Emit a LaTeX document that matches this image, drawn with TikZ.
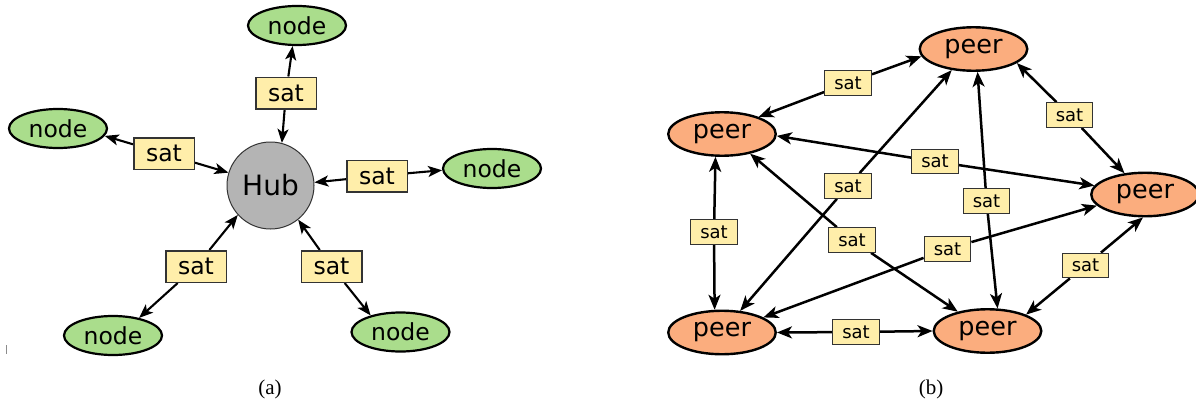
\documentclass[tikz,border=0pt]{standalone}
\usepackage{fontspec}
\setsansfont{DejaVu Sans}
\setmainfont{Liberation Serif}
\usetikzlibrary{arrows.meta,shapes.geometric,backgrounds}
\definecolor{nodegreen}{RGB}{170,221,140}
\definecolor{peerorange}{RGB}{251,173,126}
\definecolor{satyellow}{RGB}{255,238,170}
\definecolor{hubgray}{RGB}{180,180,180}
\begin{document}
\begin{tikzpicture}[x=1pt,y=-1pt,
  leaf/.style={ellipse, draw=black, line width=2.2pt, fill=nodegreen, minimum width=98pt, minimum height=39pt, inner sep=0pt, font=\sffamily\fontsize{23.5}{23.5}\selectfont},
  peer/.style={ellipse, draw=black, line width=2.4pt, fill=peerorange, minimum width=107.5pt, minimum height=43.5pt, inner sep=0pt, font=\sffamily\fontsize{25.5}{25.5}\selectfont},
  hubnode/.style={circle, draw=black!80, line width=1pt, fill=hubgray, minimum size=87pt, inner sep=0pt, font=\sffamily\fontsize{28}{28}\selectfont},
  bigsat/.style={rectangle, draw=black!80, line width=1.5pt, fill=satyellow, minimum width=60.5pt, minimum height=31.5pt, inner sep=0pt, font=\sffamily\fontsize{23.5}{23.5}\selectfont},
  smallsat/.style={rectangle, draw=black!80, line width=1.3pt, fill=satyellow, minimum width=46.5pt, minimum height=24.5pt, inner sep=0pt, font=\sffamily\fontsize{18}{18}\selectfont},
  link/.style={line width=2.1pt, -{Stealth[length=14pt,width=11pt,inset=3.5pt]}},
  plink/.style={line width=2.5pt, -{Stealth[length=15pt,width=12pt,inset=4pt]}},
  caption/.style={font=\rmfamily\fontsize{21}{21}\selectfont, inner sep=0pt}
]
\useasboundingbox (0,0) rectangle (1196,404);
% ---------- (a) hub ----------
\node[hubnode] (hub) at (270.5,185.5) {Hub};
\node[leaf] (n1) at (297,25.5) {node};
\node[leaf] (n2) at (58,128.5) {node};
\node[leaf] (n3) at (492,168.5) {node};
\node[leaf] (n4) at (113,335.5) {node};
\node[leaf] (n5) at (400.5,332) {node};
\node[bigsat] (s1) at (286,93) {sat};
\node[bigsat] (s2) at (164,153.5) {sat};
\node[bigsat] (s3) at (377,176) {sat};
\node[bigsat] (s4) at (196,266.5) {sat};
\node[bigsat] (s5) at (331.5,266.5) {sat};
\begin{scope}[on background layer]
\draw[link] (s1) -- (n1.258);
\draw[link] (s1) -- (hub.75);
\draw[link] (s2) -- (n2.351);
\draw[link] (s2) -- (hub.163);
\draw[link] (s3) -- (n3.182);
\draw[link] (s3) -- (hub.4);
\draw[link] (s4) -- (n4.34.5);
\draw[link] (s4) -- (hub.222);
\draw[link] (s5) -- (n5.151);
\draw[link] (s5) -- (hub.309);
\end{scope}
\coordinate (tickA) at (6.5,345);
\coordinate (tickB) at (6.5,354);
\draw[black!45, line width=0.8pt] (tickA) -- (tickB);
\node[caption] (capa) at (270,389) {(a)};
% ---------- (b) peers ----------
\node[peer] (tp) at (973.5,49) {peer};
\node[peer] (lp) at (722,134) {peer};
\node[peer] (rp) at (1145,194.5) {peer};
\node[peer] (bl) at (722,332.5) {peer};
\node[peer] (br) at (987.5,331) {peer};
\node[smallsat] (t1) at (848,83) {sat};
\node[smallsat] (t2) at (935,161.5) {sat};
\node[smallsat] (t3) at (848,186) {sat};
\node[smallsat] (t4) at (986.5,201) {sat};
\node[smallsat] (t5) at (1069.5,115) {sat};
\node[smallsat] (t6) at (852,240) {sat};
\node[smallsat] (t7) at (714,232) {sat};
\node[smallsat] (t8) at (947.5,249) {sat};
\node[smallsat] (t9) at (856,332) {sat};
\node[smallsat] (t10) at (1085.5,265.5) {sat};
\begin{scope}[on background layer]
\draw[plink] (t1) -- (tp.188);
\draw[plink] (t1) -- (lp.25);
\draw[plink] (t2) -- (lp.358);
\draw[plink] (t2) -- (rp.170);
\draw[plink] (t3) -- (tp.224);
\draw[plink] (t3) -- (bl.50.5);
\draw[plink] (t4) -- (tp.280);
\draw[plink] (t4) -- (br.66);
\draw[plink] (t5) -- (tp.342);
\draw[plink] (t5) -- (rp.134);
\draw[plink] (t6) -- (lp.325);
\draw[plink] (t6) -- (br.147);
\draw[plink] (t7) -- (lp.254);
\draw[plink] (t7) -- (bl.108);
\draw[plink] (t8) -- (bl.20);
\draw[plink] (t8) -- (rp.193);
\draw[plink] (t9) -- (bl.0);
\draw[plink] (t9) -- (br.180);
\draw[plink] (t10) -- (br.23);
\draw[plink] (t10) -- (rp.265);
\end{scope}
\node[caption] (capb) at (931,389) {(b)};
\end{tikzpicture}
\end{document}
